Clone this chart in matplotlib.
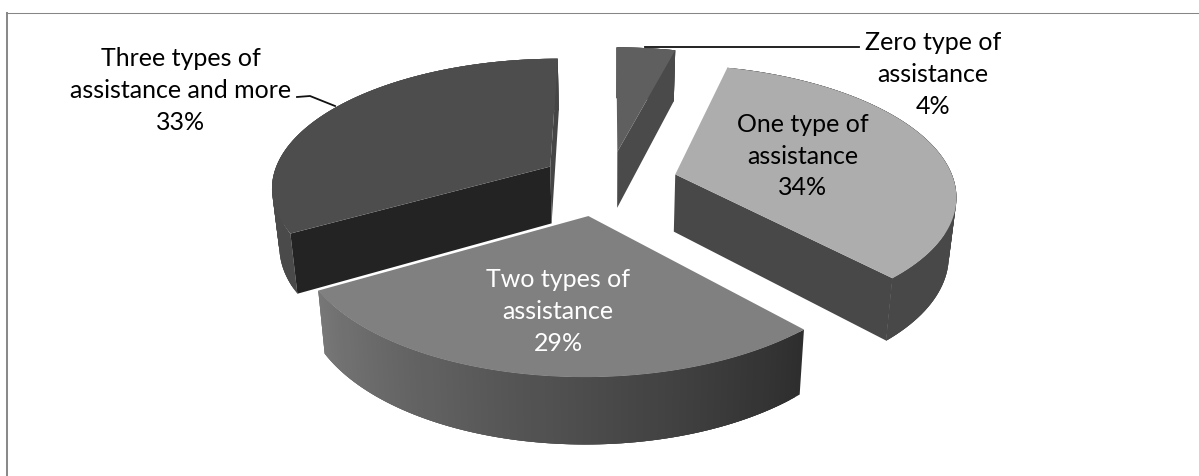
import numpy as np
import matplotlib
matplotlib.use("Agg")
import matplotlib.pyplot as plt
from matplotlib.patches import Polygon

# --- data ---
categories = ["Zero type of\nassistance", "One type of\nassistance",
              "Two types of\nassistance", "Three types of\nassistance and more"]
shares = [4.0, 34.2, 28.4, 33.4]          # slice sizes
share_labels = ["4%", "34%", "29%", "33%"]

# --- style ---
top_colors = ["#5f5f5f", "#adadad", "#808080", "#4d4d4d"]
start_cut = ["#5f5f5f", "#484848", "#808080", "#232323"]
end_cut = ["#4a4a4a", "#484848", "#2e2e2e", "#454545"]
show_start = [False, False, False, True]
show_end = [True, True, False, True]
side_colors = [("#4a4a4a", "#4a4a4a"), ("#484848", "#484848"),
               ("#2e2e2e", "#777777"), ("#4a4a4a", "#505050")]
text_colors = ["black", "black", "white", "black"]
label_xy = [(933, 74.5), (803, 156), (558, 311.5), (181, 90.5)]
explode = 0.247
x_shift = [0.0, 0.0, -0.034, 0.0]
y_shift = [0.0, 0.0, -0.012, 0.0]
radius = [1.0, 1.0, 0.99, 1.0]
draw_order = [3, 0, 1, 2]

# projection of the tilted pie (pixel space of the figure)
CU, A, P, VH, B = 609.0, 279.0, 0.147, -688.0, 870.0


def project(X, Y, Z=0.0):
    w = 1 + P * np.asarray(Y, float)
    u = A * np.asarray(X, float) / w
    v = VH + B / w
    return CU + u * (1 - 0.022 * Z), v + Z * (48.5 + 0.05 * v)


fig = plt.figure(figsize=(11.99, 4.76), dpi=100)
ax = fig.add_axes([0, 0, 1, 1])
ax.set_xlim(0, 1199)
ax.set_ylim(476, 0)
ax.axis("off")
ax.plot([7, 7], [476, 12], color="#8a8a8a", lw=1.45, solid_capstyle="butt", zorder=1)
ax.plot([6, 1199], [12.5, 12.5], color="#868686", lw=0.75, solid_capstyle="butt", zorder=1)


def lerp_color(c0, c1, t):
    a, b = np.array(matplotlib.colors.to_rgb(c0)), np.array(matplotlib.colors.to_rgb(c1))
    return a + (b - a) * t


def poly(pts, color, z):
    ax.add_patch(Polygon(pts, closed=True, fc=color, ec="none", lw=0, zorder=z))


edges = np.concatenate([[0], np.cumsum(shares)]) / sum(shares) * 2 * np.pi
for rank, i in enumerate(draw_order):
    a0, a1 = edges[i], edges[i + 1]
    mid = (a0 + a1) / 2
    ox = explode * np.sin(mid) + x_shift[i]
    oy = explode * np.cos(mid) + y_shift[i]
    th = np.linspace(a0, a1, 80)
    X = ox + radius[i] * np.sin(th)
    Y = oy + radius[i] * np.cos(th)
    ut, vt = project(X, Y, 0)
    ub, vb = project(X, Y, 1)
    ua0, va0 = project(ox, oy, 0)
    ua1, va1 = project(ox, oy, 1)
    z = 2 + rank
    # outer wall, painted in overlapping strips so that it can carry a shade
    n = len(th)
    for k in range(n - 1):
        c = lerp_color(side_colors[i][0], side_colors[i][1], k / (n - 2))
        e = min(k + 3, n - 1)
        seg_t = list(zip(ut[k:e + 1], vt[k:e + 1]))
        seg_b = list(zip(ub[k:e + 1], vb[k:e + 1]))[::-1]
        poly(seg_t + seg_b, c, z)
    # cut faces
    if show_start[i]:
        poly([(ua0, va0), (ut[0], vt[0]), (ub[0], vb[0]), (ua1, va1)], start_cut[i], z)
    if show_end[i]:
        poly([(ua0, va0), (ut[-1], vt[-1]), (ub[-1], vb[-1]), (ua1, va1)], end_cut[i], z)
    # top
    poly([(ua0, va0)] + list(zip(ut, vt)), top_colors[i], z)

for i, (x, y) in enumerate(label_xy):
    ax.text(x, y, categories[i] + "\n" + share_labels[i], ha="center", va="center",
            family="Lato", fontsize=18.0, color=text_colors[i], linespacing=1.45, zorder=20)

ax.plot([645, 859], [47, 47], color="#111111", lw=1.3, zorder=15)
ax.plot([297, 310, 335], [97, 96, 106], color="#111111", lw=1.3, zorder=1.5)
fig.savefig("out.png", dpi=100)
